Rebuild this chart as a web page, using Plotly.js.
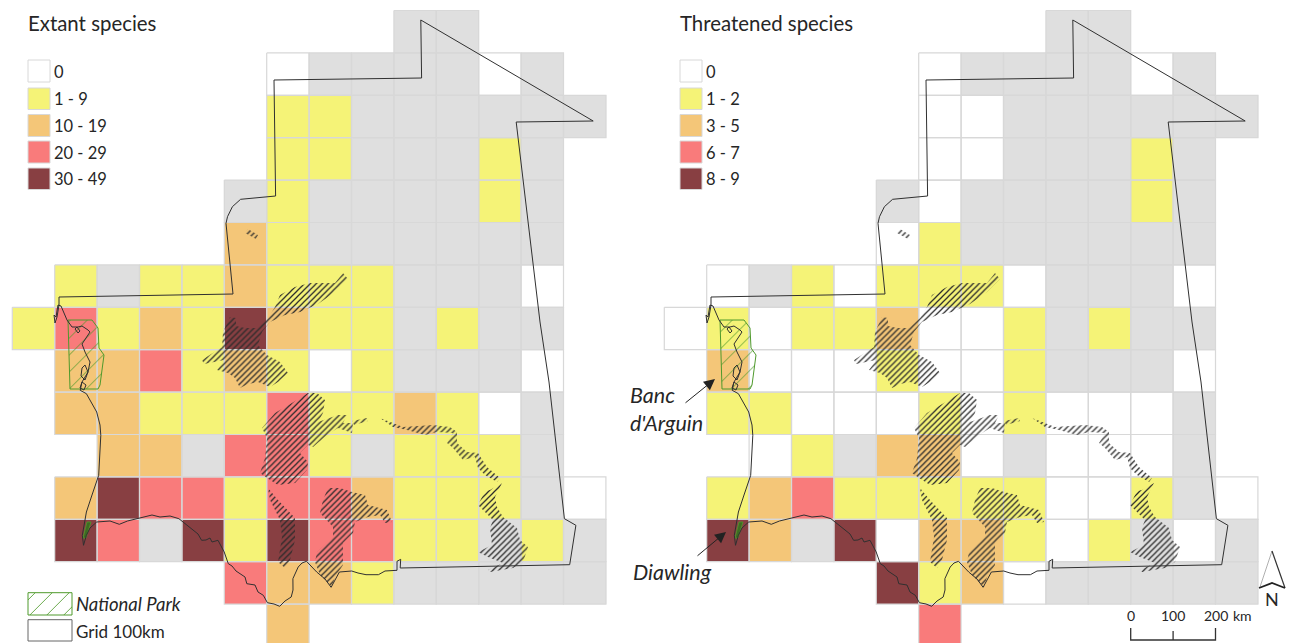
<!DOCTYPE html>
<html>
<head>
<meta charset="utf-8">
<script src="https://cdn.plot.ly/plotly-3.0.1.min.js"></script>
<style>html,body{margin:0;padding:0;background:#fff}#map{width:1290px;height:643px}</style>
</head>
<body>
<div id="map"></div>
<script>
const N = null;
// class per 100 km grid cell: 0..4 = legend classes, 5 = no data (grey), null = no cell
const extantClass = [
[N,N,N,N,N,N,N,N,N,5,5,N,N,N],
[N,N,N,N,N,N,0,5,5,5,5,0,5,N],
[N,N,N,N,N,N,1,1,5,5,5,5,5,5],
[N,N,N,N,N,N,1,1,5,5,5,1,5,N],
[N,N,N,N,N,5,1,5,5,5,5,1,5,N],
[N,N,N,N,N,2,1,5,5,5,5,5,5,N],
[N,1,5,1,1,2,1,1,1,5,5,5,0,N],
[1,3,1,2,1,4,2,1,1,5,1,5,5,N],
[N,2,2,3,1,2,1,0,1,5,5,5,0,N],
[N,2,2,1,1,1,3,1,1,2,1,0,5,N],
[N,N,2,2,5,3,3,1,5,1,1,1,5,N],
[N,2,4,3,3,1,3,3,2,1,1,1,5,0],
[N,4,3,5,4,1,4,3,3,1,1,5,1,5],
[N,N,N,N,N,3,2,2,1,5,5,5,5,5],
[N,N,N,N,N,N,2,N,N,N,N,N,N,N]];
const threatenedClass = [
[N,N,N,N,N,N,N,N,N,5,5,N,N,N],
[N,N,N,N,N,N,0,5,5,5,5,0,5,N],
[N,N,N,N,N,N,0,0,5,5,5,5,5,5],
[N,N,N,N,N,N,0,0,5,5,5,1,5,N],
[N,N,N,N,N,5,0,5,5,5,5,1,5,N],
[N,N,N,N,N,0,1,5,5,5,5,5,5,N],
[N,0,5,1,0,1,1,1,0,5,5,5,0,N],
[0,1,0,1,1,2,0,0,1,5,1,5,5,N],
[N,2,0,0,0,1,0,0,1,5,5,5,0,N],
[N,1,1,0,0,0,1,0,1,0,0,0,5,N],
[N,N,0,1,5,2,2,0,5,0,0,0,5,N],
[N,1,2,3,1,1,1,1,1,0,0,1,5,0],
[N,4,2,5,4,0,2,2,1,0,1,5,0,5],
[N,N,N,N,N,4,1,2,0,5,5,5,5,5],
[N,N,N,N,N,N,3,N,N,N,N,N,N,N]];
const classColors = ['#ffffff','#f5f377','#f4c678','#f97b7b','#883f42','#dfdfdf'];
const extantLabels = ['0','1 - 9','10 - 19','20 - 29','30 - 49'];
const threatenedLabels = ['0','1 - 2','3 - 5','6 - 7','8 - 9'];
const scaleKm = [0,100,200];

// country outline in map units
const borderX = [59,233,226,227.5,232.4,240.6,275.6,274,421.6,420.8,593.2,516.2,540,549,564.4,575.9,569.7,400.2,400.7,397,397,385,378.4,372,366,358,351.7,339.4,331.1,325,316.7,306.5,302,298.2,292.9,293,291.2,285,279.7,274,267.4,263.3,258,255,246.8,245,240.6,236,232,228.3,224.2,221,218,212,210,206,201.6,198,191.3,185,178.9,170,160,152,144,137,127.5,119.3,110,96.7,90,86.4,83.5,82.3,86.4,92,98.7,100.8,100,96.7,92,86.4,80.2,82,88,90,85,82,86,90,88,82,78,72,67,61,58,56,54,55,57,59,59];
const borderY = [297,294,223.3,216.7,206.7,199.3,196,80,78,20,121,122,322,382,518.7,525.3,564.7,568,559.3,561.3,570.3,571,574.7,575,574.7,573,571,572,587.3,579,572,561.3,563,567,578.7,590,597,601,606.3,604,602.7,595.3,592,585,583.7,577,573.7,571,566,563.7,552,546,540.3,542,538,540,540.3,534,528.7,523,518.7,516,517,515,517,519,521,524.3,521,522,528,535.3,545.3,535.3,512,495,475.3,435.3,425,412,403,393.7,390.3,382,372,362,352,344,338,332,330,326,327,327,320,306,305,317,315,323,317,305,297];
// lagoon islets of Banc d'Arguin
const isletX = [85,88,85,81,82,85,N,82,86,84,80,82,N,77,80,78,75,77];
const isletY = [365,372,380,376,368,365,N,382,385,390,388,382,N,327,331,333,329,327];

// wetland hatched polygons, separated by nulls
const wetlandX = [343,348,335,318,300,285,270,262,258,267,280,288,278,270,258,248,240,235,228,217,224,204,202,222,223,230,236,236,245,257,268,275,280,295,310,335,343,N,
 248,258,256,245,248,N,
 317,325,323,318,338,347,343,353,352,338,327,313,308,300,308,307,295,278,267,260,265,267,262,275,292,308,317,N,
 268,278,295,295,290,285,278,282,280,270,268,N,
 328,340,352,365,368,387,392,385,380,368,355,353,343,343,335,332,320,315,317,333,333,320,323,328,N,
 380,403,433,450,457,457,467,478,487,500,497,485,478,475,463,453,447,453,437,425,407,393,380,N,
 352,367,368,354,352,N,
 502,495,497,503,517,520,528,523,513,490,488,503,488,478,492,490,493,478,485,490,502];
const wetlandY = [273,279,292,304,312,315,322,332,345,355,362,373,382,387,382,384,388,378,373,370,360,364,360,347,332,317,318,326,328,328,318,307,295,287,283,283,273,N,
 229,235,239,233,229,N,
 393,400,413,422,415,415,423,423,433,428,435,447,445,453,462,470,483,485,478,473,458,438,428,413,403,393,393,N,
 488,500,518,540,560,568,562,537,520,500,488,N,
 488,488,492,495,505,510,522,523,515,517,522,533,543,565,577,587,575,562,552,537,527,513,500,488,N,
 418,427,425,427,432,443,452,453,467,478,482,475,468,457,460,448,443,433,432,435,430,427,418,N,
 421,418,421,425,421,N,
 483,497,507,517,528,540,547,562,568,572,570,563,557,552,545,528,520,505,491,490,483];
// national parks
const parkX = [68,92,98,99,104,100,98,70,68];
const parkY = [320,320,328,348,355,385,389,389,320];
const diawlingX = [87,91,86,83,87];
const diawlingY = [522,522,538,538,522];

const GRID_X = 12.3, GRID_Y = 10.5, CELL = 42.4;
const INK = '#262626';

function cellOutlines(m){
  const xs=[],ys=[];
  m.forEach((row,r)=>row.forEach((v,c)=>{
    if(v===null) return;
    const x0=GRID_X+c*CELL,x1=x0+CELL,y0=GRID_Y+r*CELL,y1=y0+CELL;
    xs.push(x0,x1,x1,x0,x0,null); ys.push(y0,y0,y1,y1,y0,null);
  }));
  return {xs,ys};
}
const colorscale=[]; classColors.forEach((c,i)=>{colorscale.push([i/6,c],[(i+1)/6,c]);});

function panelTraces(m,xa){
  const o=cellOutlines(m);
  return [
    {type:'heatmap',z:m,x0:GRID_X+CELL/2,dx:CELL,y0:GRID_Y+CELL/2,dy:CELL,zmin:0,zmax:6,colorscale,showscale:false,hoverinfo:'skip',xaxis:xa,yaxis:'y'},
    {type:'scatter',mode:'lines',x:o.xs,y:o.ys,line:{color:'#d8d8d8',width:1.2},hoverinfo:'skip',xaxis:xa,yaxis:'y'},
    {type:'scatter',mode:'none',x:wetlandX,y:wetlandY,fill:'toself',fillcolor:'rgba(0,0,0,0)',fillpattern:{shape:'/',size:4.2,solidity:0.3,fgcolor:'#2a2a2a',bgcolor:'rgba(0,0,0,0)'},hoverinfo:'skip',xaxis:xa,yaxis:'y'},
    {type:'scatter',mode:'lines',x:parkX,y:parkY,fill:'toself',fillcolor:'rgba(0,0,0,0)',fillpattern:{shape:'/',size:12,solidity:0.07,fgcolor:'#4f9a2c',bgcolor:'rgba(0,0,0,0)'},line:{color:'#4f9a2c',width:1},hoverinfo:'skip',xaxis:xa,yaxis:'y'},
    {type:'scatter',mode:'lines',x:diawlingX,y:diawlingY,fill:'toself',fillcolor:'#3f6b22',line:{color:'#4f9a2c',width:0.8},hoverinfo:'skip',xaxis:xa,yaxis:'y'},
    {type:'scatter',mode:'lines',x:borderX,y:borderY,line:{color:'#303030',width:1},hoverinfo:'skip',xaxis:xa,yaxis:'y'},
    {type:'scatter',mode:'lines',x:isletX,y:isletY,line:{color:'#303030',width:1},hoverinfo:'skip',xaxis:xa,yaxis:'y'}
  ];
}

// scale bar and north arrow (right panel)
const SB_X=478.7, SB_TOP=628, SB_BASE=640;
const sbX=[],sbY=[];
sbX.push(SB_X,SB_X,SB_X+2*CELL,SB_X+2*CELL,N,SB_X+CELL,SB_X+CELL);
sbY.push(SB_TOP,SB_BASE,SB_BASE,SB_TOP,N,631,SB_BASE);
const extras=[
  {type:'scatter',mode:'lines',x:sbX,y:sbY,line:{color:'#333',width:1.3},hoverinfo:'skip',xaxis:'x2',yaxis:'y'},
  {type:'scatter',mode:'lines',x:[608,620],y:[587,551],line:{color:'#9a9a9a',width:0.8},hoverinfo:'skip',xaxis:'x2',yaxis:'y'},
  {type:'scatter',mode:'lines',x:[620,633],y:[551,588],line:{color:'#333',width:1.2},hoverinfo:'skip',xaxis:'x2',yaxis:'y'},
  {type:'scatter',mode:'lines',x:[607,620,633],y:[588,583,588],line:{color:'#222',width:1.8},hoverinfo:'skip',xaxis:'x2',yaxis:'y'},
  // National Park legend swatch
  {type:'scatter',mode:'lines',x:[28,72,72,28,28],y:[592.7,592.7,615,615,592.7],fill:'toself',fillcolor:'rgba(0,0,0,0)',fillpattern:{shape:'/',size:12,solidity:0.07,fgcolor:'#4f9a2c',bgcolor:'rgba(0,0,0,0)'},line:{color:'#4f9a2c',width:1},hoverinfo:'skip',xaxis:'x',yaxis:'y'}
];

const shapes=[], annotations=[];
const FONT='Lato';
function txt(x,y,text,xref,size,extra){
  annotations.push(Object.assign({x,y,xref,yref:'y',text,showarrow:false,xanchor:'left',yanchor:'middle',font:{family:FONT,size,color:INK}},extra||{}));
}
const swatchTop=[60,88,114.5,141,168], swatchH=[22,21.5,22,22,21.5];
function legend(labels,xa){
  labels.forEach((l,i)=>{
    shapes.push({type:'rect',xref:xa,yref:'y',x0:28,x1:50,y0:swatchTop[i],y1:swatchTop[i]+swatchH[i],fillcolor:classColors[i],line:{color:'#d8d8d8',width:1},layer:'above'});
    txt(52,swatchTop[i]+swatchH[i]/2+0.5,l,xa,16.5);
  });
}
legend(extantLabels,'x'); legend(threatenedLabels,'x2');
txt(26,23,'Extant species','x',20.4);
txt(26,23,'Threatened species','x2',20.4);
shapes.push({type:'rect',xref:'x',yref:'y',x0:28,x1:72,y0:619.7,y1:641,fillcolor:'#fff',line:{color:'#666',width:1}});
txt(74,604,'<i>National Park</i>','x',18.5);
txt(74,631,'Grid 100km','x',17);
txt(628,395,"<i>Banc</i>",'x',21.5);
txt(628,423,"<i>d'Arguin</i>",'x',21.5);
txt(631,572,"<i>Diawling</i>",'x',21.5);
scaleKm.forEach(k=>{
  annotations.push({x:SB_X+k*CELL/100,y:615,xref:'x2',yref:'y',text:String(k),showarrow:false,xanchor:'center',yanchor:'middle',font:{family:FONT,size:14,color:INK}});
});
txt(579,615,'km','x2',14);
annotations.push({x:620,y:599,xref:'x2',yref:'y',text:'N',showarrow:false,xanchor:'center',yanchor:'middle',font:{family:FONT,size:18,color:INK}});
[[63,379,32,404],[74,532,44,557]].forEach(a=>{
  annotations.push({x:a[0],y:a[1],ax:a[2],ay:a[3],xref:'x2',yref:'y',axref:'x2',ayref:'y',text:'',showarrow:true,arrowhead:2,arrowsize:2.2,arrowwidth:1,arrowcolor:'#222'});
});

const layout={
  width:1290,height:643,margin:{l:0,r:0,t:0,b:0},paper_bgcolor:'#fff',plot_bgcolor:'rgba(0,0,0,0)',showlegend:false,
  xaxis:{domain:[0,0.5],range:[0,645],visible:false,fixedrange:true},
  xaxis2:{domain:[0.5,1],range:[-7,638],visible:false,fixedrange:true,anchor:'y'},
  yaxis:{domain:[0,1],range:[643,0],visible:false,fixedrange:true},
  shapes,annotations
};
Plotly.newPlot('map',[...panelTraces(extantClass,'x'),...panelTraces(threatenedClass,'x2'),...extras],layout,{displayModeBar:false,staticPlot:true});
</script>
</body>
</html>
